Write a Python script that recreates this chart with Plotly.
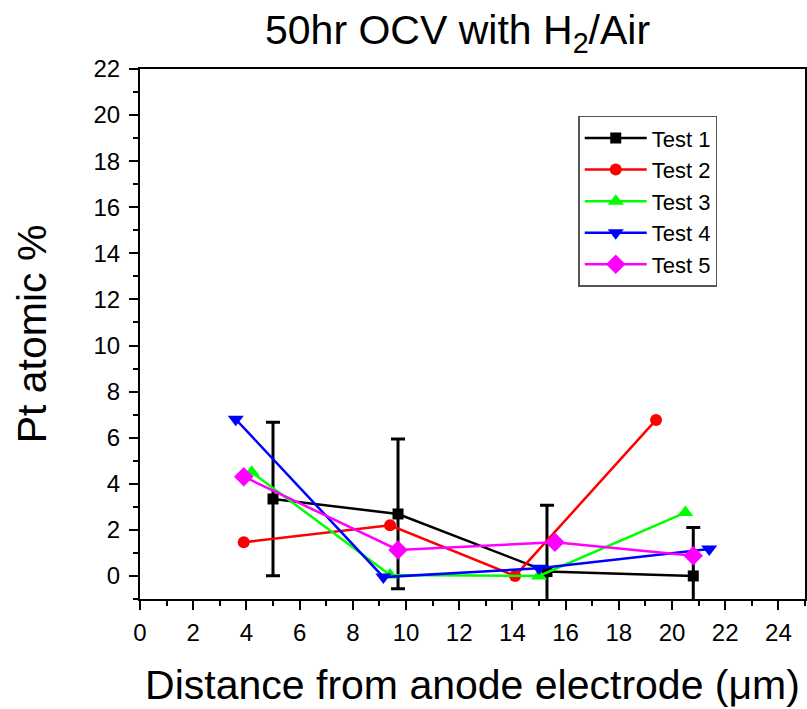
import plotly.graph_objects as go

# values
x_t1 = [5.0, 9.7, 15.3, 20.8]
y_t1 = [3.34, 2.69, 0.19, 0.0]
err_t1 = [3.33, 3.25, 2.88, 2.1]

x_t2 = [3.9, 9.4, 14.1, 19.4]
y_t2 = [1.46, 2.2, 0.0, 6.77]

x_t3 = [4.2, 9.4, 15.0, 20.5]
y_t3 = [4.5, 0.04, 0.0, 2.75]

x_t4 = [3.6, 9.15, 15.0, 21.4]
y_t4 = [6.8, -0.05, 0.33, 1.17]

x_t5 = [3.9, 9.7, 15.6, 20.8]
y_t5 = [4.31, 1.13, 1.46, 0.88]

names = ["Test 1", "Test 2", "Test 3", "Test 4", "Test 5"]
colors = ["#000000", "#ff0000", "#00ff00", "#0000ff", "#ff00ff"]
symbols = ["square", "circle", "triangle-up", "triangle-down", "diamond"]
sizes = [11, 12, 14, 14, 15]

xs = [x_t1, x_t2, x_t3, x_t4, x_t5]
ys = [y_t1, y_t2, y_t3, y_t4, y_t5]

font = "Arial, Liberation Sans, sans-serif"

fig = go.Figure()
for i in range(5):
    tr = dict(x=xs[i], y=ys[i], name=names[i], mode="lines+markers",
              line=dict(color=colors[i], width=2.5),
              marker=dict(symbol=symbols[i], color=colors[i], size=sizes[i]))
    if i == 0:
        tr["error_y"] = dict(type="data", array=err_t1, visible=True,
                             color="black", thickness=3, width=7)
    fig.add_trace(go.Scatter(**tr))

axis_common = dict(showline=True, linecolor="black", linewidth=2, mirror=True,
                   ticks="outside", ticklen=9, tickwidth=2, tickcolor="black",
                   showgrid=False, zeroline=False, automargin=False,
                   tickfont=dict(family=font, size=24, color="black"),
                   minor=dict(ticks="outside", ticklen=5, tickwidth=2, tickcolor="black", dtick=1))

fig.update_xaxes(range=[0, 25], dtick=2, tick0=0, ticklabelstandoff=2,
                 title=dict(text="Distance from anode electrode (μm)", standoff=26,
                            font=dict(family=font, size=41, color="black")),
                 **axis_common)
fig.update_yaxes(range=[-1, 22], dtick=2, tick0=0, ticklabelstandoff=4,
                 title=dict(text="Pt atomic %", standoff=34,
                            font=dict(family=font, size=41, color="black")),
                 **axis_common)

fig.update_layout(
    width=807, height=709,
    margin=dict(l=140, r=2, t=69, b=110),
    paper_bgcolor="white", plot_bgcolor="white",
    title=dict(text="50hr OCV with H<sub>2</sub>/Air", x=0.567, xanchor="center",
               y=0.958, yanchor="middle",
               font=dict(family=font, size=41, color="black")),
    legend=dict(x=0.659, y=0.912, xanchor="left", yanchor="top",
                bordercolor="#555555", borderwidth=1.5, bgcolor="white",
                font=dict(family=font, size=22, color="black"),
                itemwidth=62, tracegroupgap=0),
    showlegend=True,
)

# drop the page's default 8px body margin so the figure sits at the window corner
fig.write_html("out.html", config={"displayModeBar": False},
               post_script="document.body.style.margin='0';")
